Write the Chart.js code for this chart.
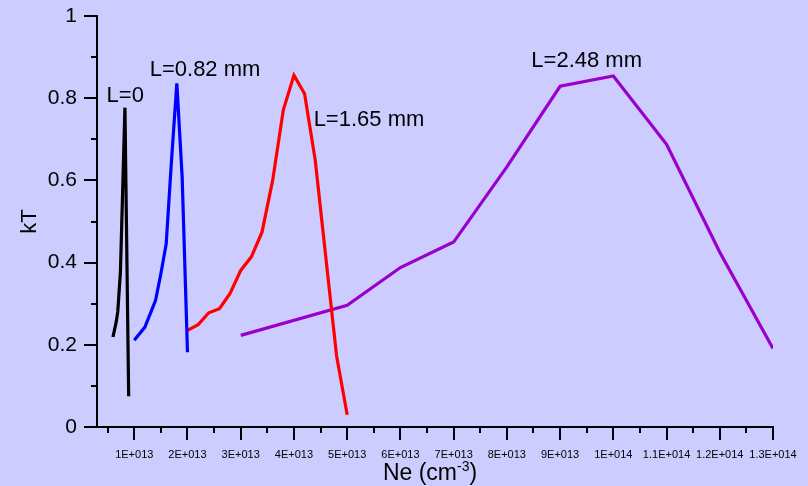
<!DOCTYPE html>
<html>
<head>
<meta charset="utf-8">
<script src="https://cdn.jsdelivr.net/npm/chart.js@4/dist/chart.umd.min.js"></script>
<style>
  html, body { margin: 0; padding: 0; background: #CCCCFF; }
  canvas { display: block; background: #CCCCFF; }
</style>
</head>
<body>
<canvas id="c" width="808" height="486"></canvas>
<script>
// ---- Data (Ne in cm^-3, kT) ----
const neL0   = [0.60e13, 0.66e13, 0.69e13, 0.74e13, 0.825e13, 0.895e13];
const kTL0   = [0.219, 0.255, 0.280, 0.377, 0.777, 0.075];

const neL082 = [1.0e13, 1.2e13, 1.4e13, 1.5e13, 1.6e13, 1.7e13, 1.8e13, 1.9e13, 2.0e13];
const kTL082 = [0.211, 0.243, 0.308, 0.373, 0.446, 0.649, 0.836, 0.608, 0.182];

const neL165 = [2.0e13, 2.2e13, 2.4e13, 2.6e13, 2.8e13, 3.0e13, 3.2e13, 3.4e13, 3.6e13, 3.8e13, 4.0e13, 4.2e13, 4.4e13, 4.8e13, 5.0e13];
const kTL165 = [0.235, 0.249, 0.278, 0.288, 0.325, 0.381, 0.414, 0.474, 0.600, 0.771, 0.856, 0.811, 0.649, 0.174, 0.030];

const neL248 = [3e13, 5e13, 6e13, 7e13, 8e13, 9e13, 10e13, 11e13, 12e13, 13e13];
const kTL248 = [0.223, 0.296, 0.388, 0.450, 0.633, 0.829, 0.854, 0.688, 0.425, 0.191];

// Axis ticks
const xTickValues = [];
for (let i = 1; i <= 26; i++) xTickValues.push(i * 0.5e13);
const xTickLabels = ['1E+013','2E+013','3E+013','4E+013','5E+013','6E+013','7E+013','8E+013','9E+013','1E+014','1.1E+014','1.2E+014','1.3E+014'];
const yTickValues = [0, 0.1, 0.2, 0.3, 0.4, 0.5, 0.6, 0.7, 0.8, 0.9, 1];
const yTickLabels = ['0', '0.2', '0.4', '0.6', '0.8', '1'];

// Curve annotations (left edge, vertical middle, in data units)
const labelText = ['L=0', 'L=0.82 mm', 'L=1.65 mm', 'L=2.48 mm'];
const labelNe   = [0.48e13, 1.29e13, 4.37e13, 8.46e13];
const labelKT   = [0.806, 0.868, 0.748, 0.891];

const seriesColors = ['#000000', '#0000FF', '#FF0000', '#9900CC'];

function pts(xs, ys) { return xs.map((x, i) => ({ x: x, y: ys[i] })); }

const FONT = '"Liberation Sans", Arial, sans-serif';

const decorPlugin = {
  id: 'decor',
  afterDraw(chart) {
    const ctx = chart.ctx;
    const xs = chart.scales.x, ys = chart.scales.y;
    const ca = chart.chartArea;
    ctx.save();
    ctx.strokeStyle = '#000';
    ctx.lineWidth = 2;
    // x ticks
    xTickValues.forEach(v => {
      const major = Math.round(v / 0.5e13) % 2 === 0;
      const px = Math.round(xs.getPixelForValue(v));
      ctx.beginPath();
      ctx.moveTo(px, ca.bottom);
      ctx.lineTo(px, ca.bottom + (major ? 13 : 6));
      ctx.stroke();
    });
    // y ticks
    yTickValues.forEach(v => {
      const major = Math.round(v * 10) % 2 === 0;
      const py = Math.round(ys.getPixelForValue(v));
      ctx.beginPath();
      ctx.moveTo(ca.left, py);
      ctx.lineTo(ca.left - (major ? 13 : 6), py);
      ctx.stroke();
    });
    // curve labels
    ctx.fillStyle = '#000';
    ctx.font = '22px ' + FONT;
    ctx.textAlign = 'left';
    ctx.textBaseline = 'middle';
    labelText.forEach((t, i) => {
      ctx.fillText(t, xs.getPixelForValue(labelNe[i]), ys.getPixelForValue(labelKT[i]));
    });
    // x axis title with superscript
    const main = 'Ne (cm';
    const sup = '-3';
    const close = ')';
    ctx.textBaseline = 'alphabetic';
    ctx.font = '23px ' + FONT;
    const w1 = ctx.measureText(main).width;
    const w3 = ctx.measureText(close).width;
    ctx.font = '14px ' + FONT;
    const w2 = ctx.measureText(sup).width;
    const total = w1 + w2 + w3;
    const cx = 430;
    let x0 = cx - total / 2;
    const base = 480;
    ctx.font = '23px ' + FONT;
    ctx.fillText(main, x0, base);
    ctx.font = '14px ' + FONT;
    ctx.fillText(sup, x0 + w1, base - 9);
    ctx.font = '23px ' + FONT;
    ctx.fillText(close, x0 + w1 + w2, base);
    ctx.restore();
  }
};

const chart = new Chart(document.getElementById('c'), {
  type: 'line',
  data: {
    datasets: [
      { data: pts(neL0, kTL0) },
      { data: pts(neL082, kTL082) },
      { data: pts(neL165, kTL165) },
      { data: pts(neL248, kTL248) }
    ].map((d, i) => Object.assign(d, {
      borderColor: seriesColors[i],
      backgroundColor: seriesColors[i],
      borderWidth: 3.2,
      pointRadius: 0,
      tension: 0,
      fill: false,
      borderJoinStyle: 'miter'
    }))
  },
  options: {
    responsive: false,
    animation: false,
    devicePixelRatio: 1,
    layout: { padding: { top: 16, right: 35, left: 0, bottom: 0 } },
    plugins: { legend: { display: false }, tooltip: { enabled: false } },
    scales: {
      x: {
        type: 'linear',
        min: 0.3e13,
        max: 13e13,
        afterBuildTicks(scale) { scale.ticks = xTickValues.map(v => ({ value: v })); },
        afterFit(scale) { scale.height = 59; scale.paddingLeft = 0; scale.paddingRight = 0; },
        grid: { display: true, drawOnChartArea: false, drawTicks: true, tickLength: 13, color: 'rgba(0,0,0,0)', tickColor: 'rgba(0,0,0,0)' },
        border: { display: true, color: '#000', width: 2 },
        ticks: {
          autoSkip: false,
          maxRotation: 0,
          minRotation: 0,
          padding: 8,
          color: '#000',
          font: { family: FONT, size: 11 },
          callback(v) {
            const k = Math.round(v / 0.5e13);
            return k % 2 === 0 ? xTickLabels[k / 2 - 1] : '';
          }
        }
      },
      y: {
        type: 'linear',
        min: 0,
        max: 1,
        afterBuildTicks(scale) { scale.ticks = yTickValues.map(v => ({ value: v })); },
        afterFit(scale) { scale.width = 97; scale.paddingTop = 0; scale.paddingBottom = 0; },
        grid: { display: true, drawOnChartArea: false, drawTicks: true, tickLength: 13, color: 'rgba(0,0,0,0)', tickColor: 'rgba(0,0,0,0)' },
        border: { display: true, color: '#000', width: 2 },
        title: { display: true, text: 'kT', color: '#000', font: { family: FONT, size: 22 }, padding: { top: 17, bottom: 0 } },
        ticks: {
          padding: 7,
          color: '#000',
          font: { family: FONT, size: 21 },
          callback(v) {
            const k = Math.round(v * 10);
            return k % 2 === 0 ? yTickLabels[k / 2] : '';
          }
        }
      }
    }
  },
  plugins: [decorPlugin]
});
</script>
</body>
</html>
